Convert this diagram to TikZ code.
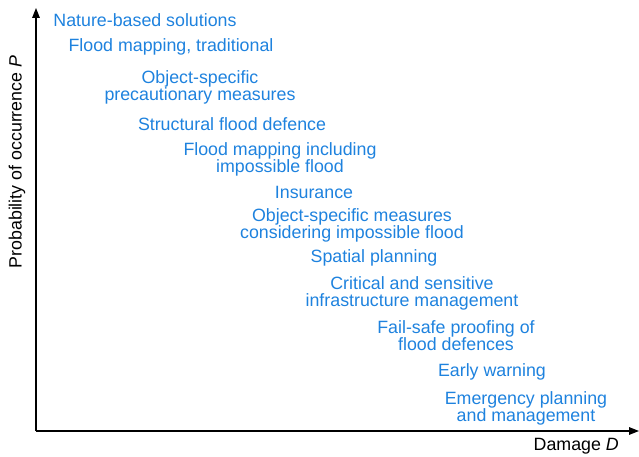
\documentclass[tikz,border=0pt]{standalone}
\usepackage{fontspec}
\setmainfont{Liberation Sans}
\usetikzlibrary{arrows.meta}
\definecolor{measureblue}{RGB}{30,130,222}
\tikzset{%
	measure/.style = {text=measureblue, align=center, inner sep=0pt, font=\fontsize{17.8}{17}\selectfont},
	axislabel/.style = {inner sep=0pt, font=\fontsize{17.8}{17}\selectfont},
	axis/.style = {line width=1.4pt, -{Triangle[length=10pt,width=7.5pt]}},
}
\begin{document}
\begin{tikzpicture}[x=1pt,y=-1pt]
	\useasboundingbox (0,0) rectangle (639,457);
	\coordinate (O) at (36,431);
	\coordinate (Ptop) at (36,8);
	\coordinate (Dend) at (639,431);
	\draw[axis] (O) -- (Ptop);  % P axis
	\draw[axis] (O) -- (Dend);  % D axis
	\node[axislabel, anchor=east] (dlab) at (619,446) {Damage \textit{D}};
	\node[axislabel, rotate=90] (plab) at (17,162) {Probability of occurrence \textit{P}};
	
	\node[measure] (nature)   at (145,20)  {Nature-based solutions};
	\node[measure] (mapping)  at (171,47)  {Flood mapping, traditional};
	\node[measure] (precaut)  at (200,87)  {Object-specific\\precautionary measures};
	\node[measure] (defence)  at (232,124) {Structural flood defence};
	\node[measure] (mapimp)   at (280,159) {Flood mapping including\\impossible flood};
	\node[measure] (insure)   at (314,192) {Insurance};
	\node[measure] (objimp)   at (352,225) {Object-specific measures\\considering impossible flood};
	\node[measure] (spatial)  at (374,258) {Spatial planning};
	\node[measure] (critical) at (412,293) {Critical and sensitive\\infrastructure management};
	\node[measure] (failsafe) at (456,336) {Fail-safe proofing of\\flood defences};
	\node[measure] (warning)  at (492,372) {Early warning};
	\node[measure] (emerg)    at (526,408) {Emergency planning\\and management};
\end{tikzpicture}
\end{document}
